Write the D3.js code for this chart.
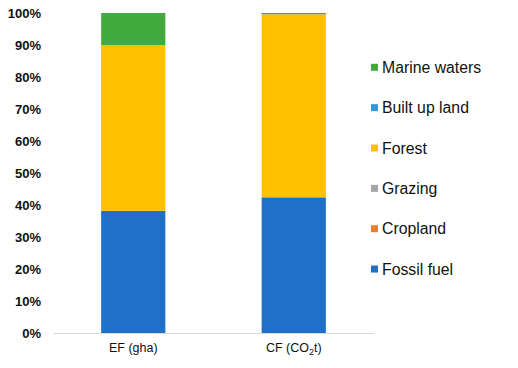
<!DOCTYPE html>
<html><head><meta charset="utf-8">
<script src="https://cdn.jsdelivr.net/npm/d3@7"></script>
<style>body{margin:0;background:#fff;}svg{display:block;}</style>
</head><body>
<svg id="c" width="518" height="368"></svg>
<script>
const categories = ["EF (gha)", "CF (CO2t)"];
const seriesNames = ["Fossil fuel", "Cropland", "Grazing", "Forest", "Built up land", "Marine waters"];
const fossilFuel   = [38.2, 42.4];
const cropland     = [0, 0];
const grazing      = [0, 0];
const forest       = [51.8, 57.2];
const builtUpLand  = [0, 0.4];
const marineWaters = [10.0, 0];
const yTicks = [0, 10, 20, 30, 40, 50, 60, 70, 80, 90, 100];
const colors = ["#1f70c8", "#f07f2d", "#a5a5a5", "#ffc000", "#2e9ad8", "#43ab3d"];

const seriesValues = [fossilFuel, cropland, grazing, forest, builtUpLand, marineWaters];
const rows = categories.map((c, i) => {
  const r = {cat: c};
  seriesNames.forEach((s, j) => r[s] = seriesValues[j][i]);
  return r;
});

const svg = d3.select("#c");
const x = d3.scaleBand().domain(categories).range([53, 374]).paddingInner(0.6).paddingOuter(0.3);
const y = d3.scaleLinear().domain([0, 100]).range([333, 13]);
const color = d3.scaleOrdinal().domain(seriesNames).range(colors);

const stack = d3.stack().keys(seriesNames)(rows);
svg.append("g").selectAll("g").data(stack).join("g")
  .attr("fill", d => color(d.key))
  .selectAll("rect").data(d => d).join("rect")
  .attr("x", d => x(d.data.cat))
  .attr("width", x.bandwidth())
  .attr("y", d => y(d[1]))
  .attr("height", d => y(d[0]) - y(d[1]));

// y axis
const ya = svg.append("g").attr("transform", "translate(45,0)")
  .call(d3.axisLeft(y).tickValues(yTicks).tickFormat(d => d + "%").tickSize(0).tickPadding(4));
ya.select(".domain").remove();
ya.selectAll("text").attr("font-family", "Liberation Sans, Arial, sans-serif")
  .attr("font-size", 13).attr("font-weight", "bold").attr("fill", "#111");

// x axis
const xa = svg.append("g").attr("transform", "translate(0,333)")
  .call(d3.axisBottom(x).tickSize(0).tickPadding(10));
xa.select(".domain").attr("stroke", "#d9d9d9").attr("stroke-width", 1.2);
xa.selectAll("text").attr("font-family", "Liberation Sans, Arial, sans-serif")
  .attr("font-size", 12.5).attr("fill", "#111")
  .each(function(d) {
    const t = d3.select(this);
    if (d.indexOf("CO2") >= 0) {
      t.text(null);
      const parts = d.split("CO2");
      t.append("tspan").text(parts[0] + "CO");
      t.append("tspan").text("2").attr("font-size", 9).attr("dy", 3.5);
      t.append("tspan").text(parts[1]).attr("dy", -3.5);
    }
  });

// legend
const legendOrder = seriesNames.slice().reverse();
const lg = svg.append("g").selectAll("g").data(legendOrder).join("g")
  .attr("transform", (d, i) => `translate(371,${67.3 + i * 40.35})`);
lg.append("rect").attr("x", 0).attr("y", -3.5).attr("width", 7).attr("height", 7).attr("fill", d => color(d));
lg.append("text").attr("x", 11).attr("dy", "0.35em")
  .attr("font-family", "Liberation Sans, Arial, sans-serif").attr("font-size", 15.8).attr("fill", "#111")
  .text(d => d);
</script>
</body></html>
